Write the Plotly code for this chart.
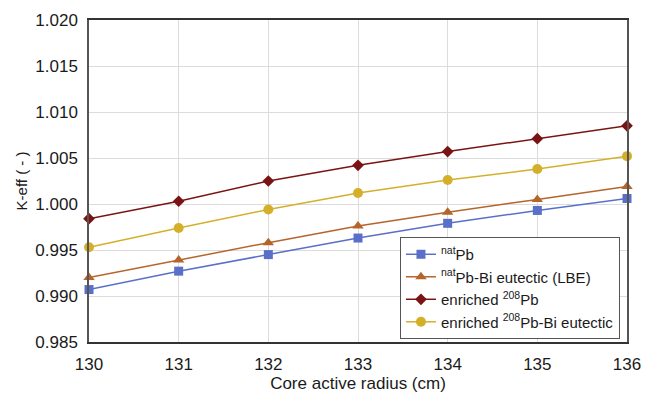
import plotly.graph_objects as go

radius = [130, 131, 132, 133, 134, 135, 136]
nat_pb = [0.9907, 0.9927, 0.9945, 0.9963, 0.9979, 0.9993, 1.0006]
nat_lbe = [0.9920, 0.9939, 0.9958, 0.9976, 0.9991, 1.0005, 1.0019]
enr_pb = [0.9984, 1.0003, 1.0025, 1.0042, 1.0057, 1.0071, 1.0085]
enr_lbe = [0.9953, 0.9974, 0.9994, 1.0012, 1.0026, 1.0038, 1.0052]

series = [
    ("<sup>nat</sup>Pb", nat_pb, "#5a6fc8", "square", 9),
    ("<sup>nat</sup>Pb-Bi eutectic (LBE)", nat_lbe, "#b5652b", "triangle-up", 10),
    ("enriched <sup>208</sup>Pb", enr_pb, "#7a1414", "diamond", 9),
    ("enriched <sup>208</sup>Pb-Bi eutectic", enr_lbe, "#d4b02a", "circle", 10),
]

fig = go.Figure()
for name, vals, color, sym, size in series:
    fig.add_trace(go.Scatter(
        x=radius, y=vals, name=name, mode="lines+markers",
        line=dict(color=color, width=1.5),
        marker=dict(symbol=sym, size=size, color=color),
        cliponaxis=False,
    ))

font = "Liberation Sans, Arial, sans-serif"
# the page body has an 8px margin, so the figure is sized/offset to compensate
fig.update_layout(
    width=651, height=389,
    margin=dict(l=81, r=32, t=12, b=55),
    paper_bgcolor="white", plot_bgcolor="white",
    font=dict(family=font, size=15, color="#1a1a1a"),
    showlegend=True,
    legend=dict(
        x=0.578, y=0.326, xanchor="left", yanchor="top",
        bgcolor="white", bordercolor="#555555", borderwidth=1,
        font=dict(size=15, family=font), itemwidth=30,
    ),
)
fig.update_xaxes(
    range=[130, 136], dtick=1, tick0=130, automargin=False,
    showgrid=True, gridcolor="#dcdcdc", gridwidth=1,
    showline=True, linecolor="#333333", linewidth=1.5, mirror=True,
    ticks="", zeroline=False, ticklabelstandoff=6,
    title=dict(text="Core active radius (cm)", font=dict(size=17), standoff=4),
    tickfont=dict(size=17),
)
fig.update_yaxes(
    range=[0.985, 1.020], dtick=0.005, tick0=0.985, tickformat=".3f",
    automargin=False,
    showgrid=True, gridcolor="#dcdcdc", gridwidth=1,
    showline=True, linecolor="#555555", linewidth=1.5, mirror=True,
    ticks="", zeroline=False, ticklabelstandoff=6,
    title=dict(text="K-eff ( - )", font=dict(size=15), standoff=4),
    tickfont=dict(size=17),
)

fig.write_html("out.html")
